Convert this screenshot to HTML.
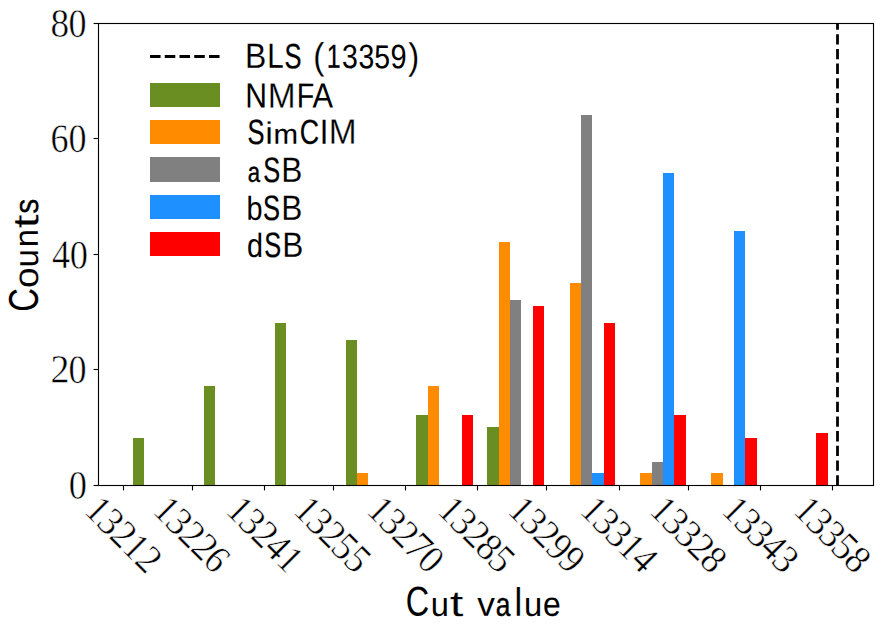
<!DOCTYPE html>
<html><head><meta charset="utf-8"><title>Histogram of cut values</title><style>
html,body{margin:0;padding:0;background:#fff;width:885px;height:634px;overflow:hidden;}
svg{display:block;}
text{vector-effect:non-scaling-stroke;}
</style></head><body>
<svg width="885" height="634" viewBox="0 0 885 634">
<rect width="885" height="634" fill="#fff"/>
<g><rect x="133" y="438" width="11" height="47" fill="#6b8e23"/><rect x="204" y="386" width="11" height="99" fill="#6b8e23"/><rect x="275" y="323" width="11" height="162" fill="#6b8e23"/><rect x="346" y="340" width="11" height="145" fill="#6b8e23"/><rect x="357" y="473" width="11" height="12" fill="#ff8c00"/><rect x="416" y="415" width="12" height="70" fill="#6b8e23"/><rect x="428" y="386" width="11" height="99" fill="#ff8c00"/><rect x="462" y="415" width="11" height="70" fill="#ff0000"/><rect x="487" y="427" width="12" height="58" fill="#6b8e23"/><rect x="499" y="242" width="11" height="243" fill="#ff8c00"/><rect x="510" y="300" width="11" height="185" fill="#808080"/><rect x="533" y="306" width="11" height="179" fill="#ff0000"/><rect x="570" y="283" width="11" height="202" fill="#ff8c00"/><rect x="581" y="115" width="11" height="370" fill="#808080"/><rect x="592" y="473" width="12" height="12" fill="#1e90ff"/><rect x="604" y="323" width="11" height="162" fill="#ff0000"/><rect x="640" y="473" width="12" height="12" fill="#ff8c00"/><rect x="652" y="462" width="11" height="23" fill="#808080"/><rect x="663" y="173" width="11" height="312" fill="#1e90ff"/><rect x="674" y="415" width="12" height="70" fill="#ff0000"/><rect x="711" y="473" width="12" height="12" fill="#ff8c00"/><rect x="734" y="231" width="11" height="254" fill="#1e90ff"/><rect x="745" y="438" width="12" height="47" fill="#ff0000"/><rect x="816" y="433" width="12" height="52" fill="#ff0000"/></g>
<line x1="837.5" y1="485.5" x2="837.5" y2="23.5" stroke="#000" stroke-width="2.78" stroke-dasharray="10.3 4.4"/>
<rect x="98.5" y="23.5" width="775" height="462" fill="none" stroke="#000" stroke-width="1.11"/>
<g stroke="#000" stroke-width="1.11"><line x1="123.5" y1="485.5" x2="123.5" y2="490.4"/><line x1="192.5" y1="485.5" x2="192.5" y2="490.4"/><line x1="264.5" y1="485.5" x2="264.5" y2="490.4"/><line x1="333.5" y1="485.5" x2="333.5" y2="490.4"/><line x1="405.5" y1="485.5" x2="405.5" y2="490.4"/><line x1="477.5" y1="485.5" x2="477.5" y2="490.4"/><line x1="546.5" y1="485.5" x2="546.5" y2="490.4"/><line x1="619.5" y1="485.5" x2="619.5" y2="490.4"/><line x1="688.5" y1="485.5" x2="688.5" y2="490.4"/><line x1="760.5" y1="485.5" x2="760.5" y2="490.4"/><line x1="832.5" y1="485.5" x2="832.5" y2="490.4"/><line x1="98.5" y1="485.5" x2="93.6" y2="485.5"/><line x1="98.5" y1="369.5" x2="93.6" y2="369.5"/><line x1="98.5" y1="254.5" x2="93.6" y2="254.5"/><line x1="98.5" y1="138.5" x2="93.6" y2="138.5"/><line x1="98.5" y1="23.5" x2="93.6" y2="23.5"/></g>
<line x1="150" y1="56.5" x2="220" y2="56.5" stroke="#000" stroke-width="2.78" stroke-dasharray="10.55 4.2"/>
<rect x="150" y="83" width="70" height="24" fill="#6b8e23"/><rect x="150" y="120" width="70" height="24" fill="#ff8c00"/><rect x="150" y="157" width="70" height="25" fill="#808080"/><rect x="150" y="195" width="70" height="24" fill="#1e90ff"/><rect x="150" y="232" width="70" height="24" fill="#ff0000"/>
<g fill="#000" font-size="40" text-rendering="geometricPrecision" vector-effect="non-scaling-stroke" stroke-linejoin="round">
<g font-family="Liberation Sans"><text id="lg0_0" transform="matrix(0.7978,0.002,0,0.8723,245.105,67.839)" stroke="#fff" stroke-width="0.17">B</text><text id="lg0_1" transform="matrix(0.7389,0.002,0,0.8723,267.145,67.839)">L</text><text id="lg0_2" transform="matrix(0.6372,0.002,0,0.8796,284.426,68.184)" stroke="#000" stroke-width="0.34">S</text><text id="lg0_3" transform="matrix(0.8298,0.002,0,0.9274,313.368,68.736)" stroke="#fff" stroke-width="0.14">(</text><text id="lg0_4" transform="matrix(0.6227,0.002,0,0.8303,326.781,67.825)" stroke="#000" stroke-width="0.35">1</text><text id="lg0_5" transform="matrix(0.7122,0.002,0,0.8371,341.947,68.098)" stroke="#000" stroke-width="0.09">3</text><text id="lg0_6" transform="matrix(0.7108,0.002,0,0.8462,358.409,68.207)" stroke="#000" stroke-width="0.09">3</text><text id="lg0_7" transform="matrix(0.7107,0.002,0,0.8313,374.321,68.165)" stroke="#000" stroke-width="0.11">5</text><text id="lg0_8" transform="matrix(0.7257,0.002,0,0.8505,390.608,68.237)">9</text><text id="lg0_9" transform="matrix(0.8230,0.002,0,0.9297,408.156,68.925)" stroke="#fff" stroke-width="0.14">)</text></g>
<g font-family="Liberation Sans"><text id="lg1_0" transform="matrix(0.7520,0.002,0,0.8697,245.275,107.579)">N</text><text id="lg1_1" transform="matrix(0.8365,0.002,0,0.8805,267.802,107.823)" stroke="#fff" stroke-width="0.31">M</text><text id="lg1_2" transform="matrix(0.7169,0.002,0,0.8673,296.808,107.579)" stroke="#000" stroke-width="0.07">F</text><text id="lg1_3" transform="matrix(0.7694,0.002,0,0.8699,312.392,107.584)">A</text></g>
<g font-family="Liberation Sans"><text id="lg2_0" transform="matrix(0.6368,0.002,0,0.8760,247.599,143.916)" stroke="#000" stroke-width="0.34">S</text><text id="lg2_1" transform="matrix(0.8643,0.002,0,0.7811,265.328,143.642)" stroke="#fff" stroke-width="0.16">i</text><text id="lg2_2" transform="matrix(0.7372,0.002,0,0.6933,273.532,143.647)" stroke="#000" stroke-width="0.12">m</text><text id="lg2_3" transform="matrix(0.6700,0.002,0,0.8626,299.672,143.646)" stroke="#000" stroke-width="0.24">C</text><text id="lg2_4" transform="matrix(0.8171,0.002,0,0.8707,319.510,143.645)" stroke="#fff" stroke-width="0.14">I</text><text id="lg2_5" transform="matrix(0.8369,0.002,0,0.8803,328.651,143.867)" stroke="#fff" stroke-width="0.31">M</text></g>
<g font-family="Liberation Sans"><text id="lg3_0" transform="matrix(0.5537,0.002,0,0.6970,247.733,181.820)" stroke="#000" stroke-width="0.61">a</text><text id="lg3_1" transform="matrix(0.6345,0.002,0,0.8824,263.180,182.046)" stroke="#000" stroke-width="0.34">S</text><text id="lg3_2" transform="matrix(0.7915,0.002,0,0.8716,281.367,181.759)" stroke="#fff" stroke-width="0.17">B</text></g>
<g font-family="Liberation Sans"><text id="lg4_0" transform="matrix(0.7219,0.002,0,0.8302,246.612,219.797)" stroke="#000" stroke-width="0.06">b</text><text id="lg4_1" transform="matrix(0.6370,0.002,0,0.8826,263.104,219.988)" stroke="#000" stroke-width="0.34">S</text><text id="lg4_2" transform="matrix(0.7915,0.002,0,0.8716,281.304,219.701)" stroke="#fff" stroke-width="0.17">B</text></g>
<g font-family="Liberation Sans"><text id="lg5_0" transform="matrix(0.7197,0.002,0,0.8340,247.092,256.879)" stroke="#000" stroke-width="0.06">d</text><text id="lg5_1" transform="matrix(0.6342,0.002,0,0.8821,264.210,256.988)" stroke="#000" stroke-width="0.34">S</text><text id="lg5_2" transform="matrix(0.7915,0.002,0,0.8716,282.203,256.701)" stroke="#fff" stroke-width="0.17">B</text></g>
<g font-family="Liberation Sans"><text id="xlabel_0" transform="matrix(0.8099,0.002,0,1.0417,405.759,615.549)" stroke="#000" stroke-width="0.07">C</text><text id="xlabel_1" transform="matrix(0.8161,0.002,0,0.8534,430.772,615.883)">u</text><text id="xlabel_2" transform="matrix(1.2329,0.002,0,0.8996,449.743,615.879)" stroke="#fff" stroke-width="0.23">t</text><text id="xlabel_3" transform="matrix(0.8845,0.002,0,0.8414,477.255,615.630)" stroke="#fff" stroke-width="0.07">v</text><text id="xlabel_4" transform="matrix(0.6589,0.002,0,0.8305,495.729,615.652)" stroke="#000" stroke-width="0.51">a</text><text id="xlabel_5" transform="matrix(0.9231,0.002,0,0.9935,514.125,615.632)" stroke="#fff" stroke-width="0.18">l</text><text id="xlabel_6" transform="matrix(0.8181,0.002,0,0.8539,523.933,615.893)">u</text><text id="xlabel_7" transform="matrix(0.7955,0.002,0,0.8506,542.878,615.749)" stroke="#000" stroke-width="0.09">e</text></g>
<g font-family="Liberation Sans" transform="rotate(-90)"><text id="yl_0" transform="matrix(0.8172,0.002,0,1.0381,-311.791,37.656)" stroke="#000" stroke-width="0.07">C</text><text id="yl_1" transform="matrix(0.9251,0.002,0,0.8631,-287.923,37.892)" stroke="#fff" stroke-width="0.10">o</text><text id="yl_2" transform="matrix(0.8095,0.002,0,0.8424,-267.181,37.944)">u</text><text id="yl_3" transform="matrix(0.8201,0.002,0,0.8444,-247.166,37.802)">n</text><text id="yl_4" transform="matrix(1.2640,0.002,0,0.8999,-228.496,38.129)" stroke="#fff" stroke-width="0.23">t</text><text id="yl_5" transform="matrix(0.7497,0.002,0,0.8462,-213.829,37.883)" stroke="#000" stroke-width="0.29">s</text></g>
<g font-family="Liberation Serif"><text id="yt80_0" transform="matrix(0.9302,0.002,0,0.9934,50.574,36.568)" stroke="#fff" stroke-width="0.50">8</text><text id="yt80_1" transform="matrix(0.9017,0.002,0,0.9960,68.600,36.670)" stroke="#fff" stroke-width="0.50">0</text></g>
<g font-family="Liberation Serif"><text id="yt60_0" transform="matrix(0.9028,0.002,0,0.9992,50.430,151.812)" stroke="#fff" stroke-width="0.50">6</text><text id="yt60_1" transform="matrix(0.9012,0.002,0,0.9955,68.551,151.832)" stroke="#fff" stroke-width="0.50">0</text></g>
<g font-family="Liberation Serif"><text id="yt40_0" transform="matrix(0.9019,0.002,0,1.0167,51.903,267.946)" stroke="#fff" stroke-width="0.50">4</text><text id="yt40_1" transform="matrix(0.9106,0.002,0,0.9951,69.716,268.185)" stroke="#fff" stroke-width="0.50">0</text></g>
<g font-family="Liberation Serif"><text id="yt20_0" transform="matrix(0.9487,0.002,0,0.9980,50.503,382.586)" stroke="#fff" stroke-width="0.50">2</text><text id="yt20_1" transform="matrix(0.9017,0.002,0,0.9960,68.579,382.670)" stroke="#fff" stroke-width="0.50">0</text></g>
<g font-family="Liberation Serif"><text id="yt0_0" transform="matrix(0.9093,0.002,0,1.0023,68.749,498.624)" stroke="#fff" stroke-width="0.50">0</text></g>
<g font-family="Liberation Serif" transform="translate(83.378,511.893) rotate(45)"><text transform="matrix(0.8526,0,0,0.9888,0.123,0.250)" stroke="#fff" stroke-width="0.50">1</text><text transform="matrix(0.9494,0,0,0.9946,16.980,0.481)" stroke="#fff" stroke-width="0.50">3</text><text transform="matrix(0.9397,0,0,0.9858,35.224,0.250)" stroke="#fff" stroke-width="0.50">2</text><text transform="matrix(0.8526,0,0,0.9888,53.429,0.250)" stroke="#fff" stroke-width="0.50">1</text><text transform="matrix(0.9397,0,0,0.9858,70.761,0.250)" stroke="#fff" stroke-width="0.50">2</text></g>
<g font-family="Liberation Serif" transform="translate(151.869,511.893) rotate(45)"><text transform="matrix(0.8526,0,0,0.9888,0.123,0.250)" stroke="#fff" stroke-width="0.50">1</text><text transform="matrix(0.9494,0,0,0.9946,16.980,0.481)" stroke="#fff" stroke-width="0.50">3</text><text transform="matrix(0.9397,0,0,0.9858,35.224,0.250)" stroke="#fff" stroke-width="0.50">2</text><text transform="matrix(0.9397,0,0,0.9858,52.992,0.250)" stroke="#fff" stroke-width="0.50">2</text><text transform="matrix(0.8953,0,0,0.9946,70.758,0.481)" stroke="#fff" stroke-width="0.50">6</text></g>
<g font-family="Liberation Serif" transform="translate(224.885,511.893) rotate(45)"><text transform="matrix(0.8526,0,0,0.9888,0.123,0.250)" stroke="#fff" stroke-width="0.50">1</text><text transform="matrix(0.9494,0,0,0.9946,16.980,0.481)" stroke="#fff" stroke-width="0.50">3</text><text transform="matrix(0.9397,0,0,0.9858,35.224,0.250)" stroke="#fff" stroke-width="0.50">2</text><text transform="matrix(0.8979,0,0,1.0035,53.129,0.250)" stroke="#fff" stroke-width="0.50">4</text><text transform="matrix(0.8526,0,0,0.9888,71.197,0.250)" stroke="#fff" stroke-width="0.50">1</text></g>
<g font-family="Liberation Serif" transform="translate(292.312,511.893) rotate(45)"><text transform="matrix(0.8526,0,0,0.9888,0.123,0.250)" stroke="#fff" stroke-width="0.50">1</text><text transform="matrix(0.9494,0,0,0.9946,16.980,0.481)" stroke="#fff" stroke-width="0.50">3</text><text transform="matrix(0.9397,0,0,0.9858,35.224,0.250)" stroke="#fff" stroke-width="0.50">2</text><text transform="matrix(0.9351,0,0,1.0041,52.471,0.478)" stroke="#fff" stroke-width="0.50">5</text><text transform="matrix(0.9351,0,0,1.0041,70.239,0.478)" stroke="#fff" stroke-width="0.50">5</text></g>
<g font-family="Liberation Serif" transform="translate(365.615,511.893) rotate(45)"><text transform="matrix(0.8526,0,0,0.9888,0.123,0.250)" stroke="#fff" stroke-width="0.50">1</text><text transform="matrix(0.9494,0,0,0.9946,16.980,0.481)" stroke="#fff" stroke-width="0.50">3</text><text transform="matrix(0.9397,0,0,0.9858,35.224,0.250)" stroke="#fff" stroke-width="0.50">2</text><text transform="matrix(0.9988,0,0,1.0442,52.204,0.870)" stroke="#fff" stroke-width="0.50">7</text><text transform="matrix(0.9025,0,0,0.9903,70.921,0.483)" stroke="#fff" stroke-width="0.50">0</text></g>
<g font-family="Liberation Serif" transform="translate(436.412,511.893) rotate(45)"><text transform="matrix(0.8526,0,0,0.9888,0.123,0.250)" stroke="#fff" stroke-width="0.50">1</text><text transform="matrix(0.9494,0,0,0.9946,16.980,0.481)" stroke="#fff" stroke-width="0.50">3</text><text transform="matrix(0.9397,0,0,0.9858,35.224,0.250)" stroke="#fff" stroke-width="0.50">2</text><text transform="matrix(0.9253,0,0,0.9903,52.924,0.483)" stroke="#fff" stroke-width="0.50">8</text><text transform="matrix(0.9351,0,0,1.0041,70.239,0.478)" stroke="#fff" stroke-width="0.50">5</text></g>
<g font-family="Liberation Serif" transform="translate(506.534,511.893) rotate(45)"><text transform="matrix(0.8526,0,0,0.9888,0.123,0.250)" stroke="#fff" stroke-width="0.50">1</text><text transform="matrix(0.9494,0,0,0.9946,16.980,0.481)" stroke="#fff" stroke-width="0.50">3</text><text transform="matrix(0.9397,0,0,0.9858,35.224,0.250)" stroke="#fff" stroke-width="0.50">2</text><text transform="matrix(0.8963,0,0,0.9946,53.372,0.481)" stroke="#fff" stroke-width="0.50">9</text><text transform="matrix(0.8963,0,0,0.9946,71.141,0.481)" stroke="#fff" stroke-width="0.50">9</text></g>
<g font-family="Liberation Serif" transform="translate(578.926,511.893) rotate(45)"><text transform="matrix(0.8526,0,0,0.9888,0.123,0.250)" stroke="#fff" stroke-width="0.50">1</text><text transform="matrix(0.9494,0,0,0.9946,16.980,0.481)" stroke="#fff" stroke-width="0.50">3</text><text transform="matrix(0.9494,0,0,0.9946,34.748,0.481)" stroke="#fff" stroke-width="0.50">3</text><text transform="matrix(0.8526,0,0,0.9888,53.429,0.250)" stroke="#fff" stroke-width="0.50">1</text><text transform="matrix(0.8979,0,0,1.0035,70.897,0.250)" stroke="#fff" stroke-width="0.50">4</text></g>
<g font-family="Liberation Serif" transform="translate(648.431,511.893) rotate(45)"><text transform="matrix(0.8526,0,0,0.9888,0.123,0.250)" stroke="#fff" stroke-width="0.50">1</text><text transform="matrix(0.9494,0,0,0.9946,16.980,0.481)" stroke="#fff" stroke-width="0.50">3</text><text transform="matrix(0.9494,0,0,0.9946,34.748,0.481)" stroke="#fff" stroke-width="0.50">3</text><text transform="matrix(0.9397,0,0,0.9858,52.992,0.250)" stroke="#fff" stroke-width="0.50">2</text><text transform="matrix(0.9253,0,0,0.9903,70.693,0.483)" stroke="#fff" stroke-width="0.50">8</text></g>
<g font-family="Liberation Serif" transform="translate(720.492,511.893) rotate(45)"><text transform="matrix(0.8526,0,0,0.9888,0.123,0.250)" stroke="#fff" stroke-width="0.50">1</text><text transform="matrix(0.9494,0,0,0.9946,16.980,0.481)" stroke="#fff" stroke-width="0.50">3</text><text transform="matrix(0.9494,0,0,0.9946,34.748,0.481)" stroke="#fff" stroke-width="0.50">3</text><text transform="matrix(0.8979,0,0,1.0035,53.129,0.250)" stroke="#fff" stroke-width="0.50">4</text><text transform="matrix(0.9494,0,0,0.9946,70.285,0.481)" stroke="#fff" stroke-width="0.50">3</text></g>
<g font-family="Liberation Serif" transform="translate(792.331,511.893) rotate(45)"><text transform="matrix(0.8526,0,0,0.9888,0.123,0.250)" stroke="#fff" stroke-width="0.50">1</text><text transform="matrix(0.9494,0,0,0.9946,16.980,0.481)" stroke="#fff" stroke-width="0.50">3</text><text transform="matrix(0.9494,0,0,0.9946,34.748,0.481)" stroke="#fff" stroke-width="0.50">3</text><text transform="matrix(0.9351,0,0,1.0041,52.471,0.478)" stroke="#fff" stroke-width="0.50">5</text><text transform="matrix(0.9253,0,0,0.9903,70.693,0.483)" stroke="#fff" stroke-width="0.50">8</text></g>
</g>
</svg>
</body></html>
